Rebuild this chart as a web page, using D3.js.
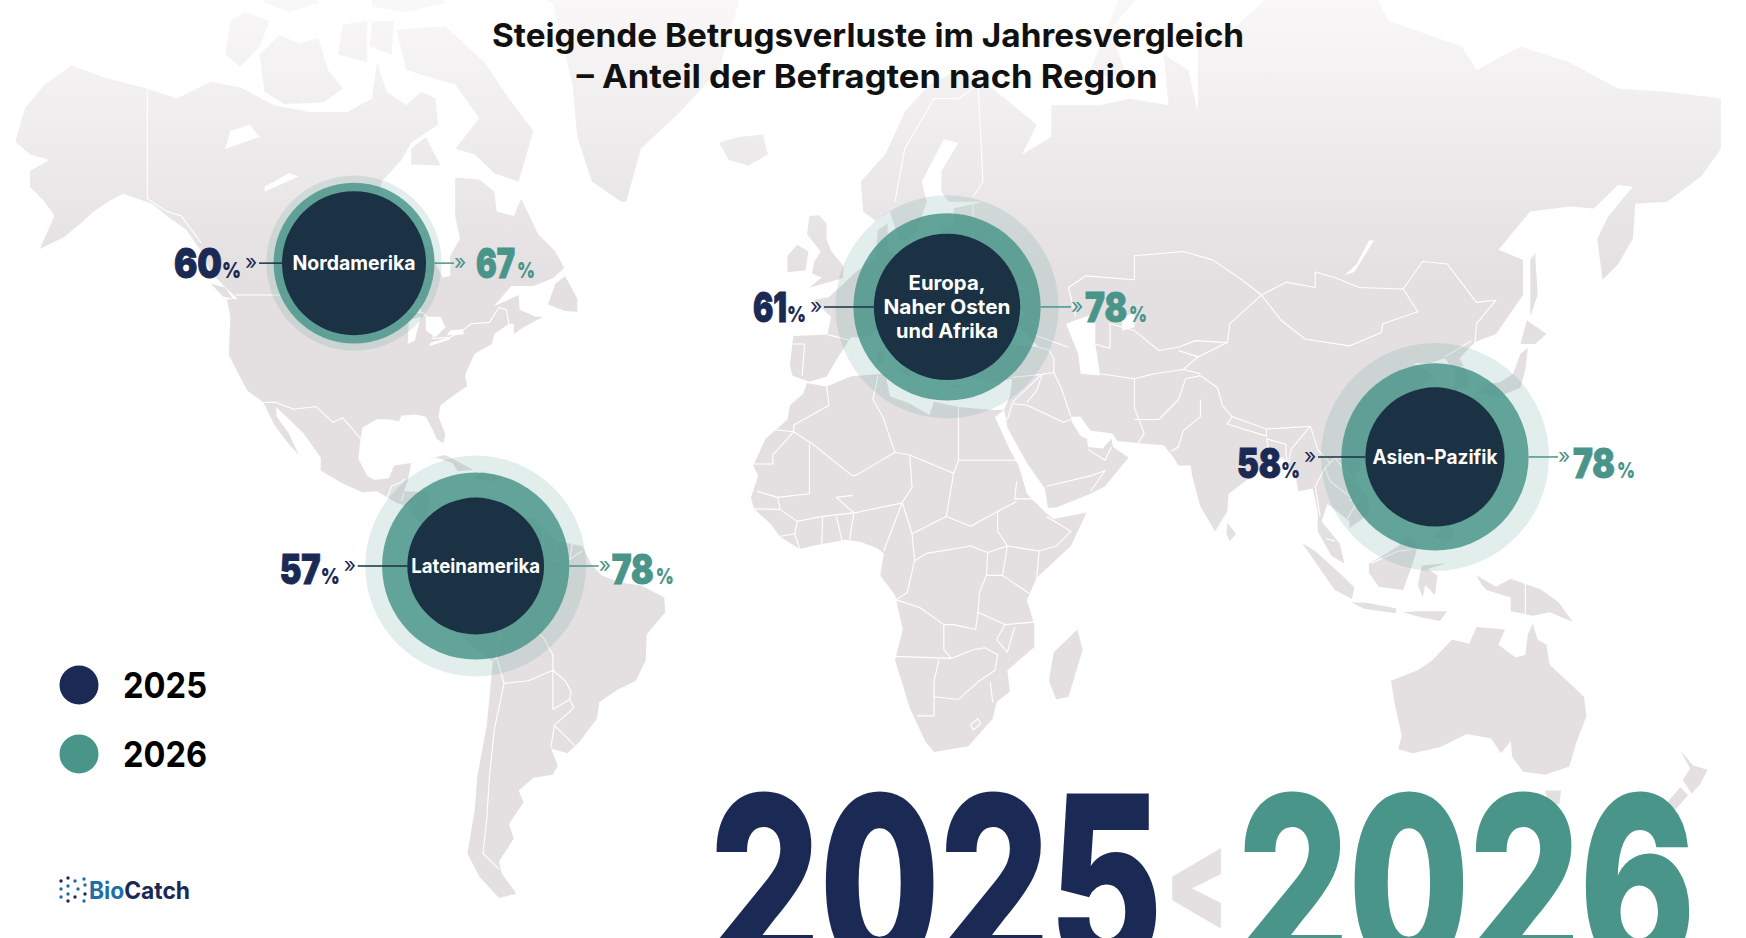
<!DOCTYPE html>
<html lang="de">
<head>
<meta charset="utf-8">
<title>Betrugsverluste</title>
<script src="https://cdn.jsdelivr.net/npm/d3@7"></script>
<style>
  html, body { margin: 0; background: #fff; overflow: hidden; }
  text { font-family: Inter, Roboto, sans-serif; }
  text.heavy { font-weight: 900; }
</style>
</head>
<body>
<div id="chart"></div>
<script>
// chart data
const titleLines = ["Steigende Betrugsverluste im Jahresvergleich", "– Anteil der Befragten nach Region"];
const regions = [["Nordamerika"], ["Europa,", "Naher Osten", "und Afrika"], ["Asien-Pazifik"], ["Lateinamerika"]];
const values2025 = [60, 61, 58, 57];
const values2026 = [67, 78, 78, 78];
const haloValues = [73, 93, 95, 92];
const hubLon = [-98.7, 22.65, 122.5, -73.8];
const hubLat = [53.1, 47.38, 22.62, 0.92];
const years = ["2025", "2026"];

// land outlines, lon/lat
const land = [
  // north america
  [[-168,65.6],[-166,68.3],[-162,70],[-156.5,71.3],[-150,70.5],[-141,69.7],[-135,69],[-128,70.2],[-122,69.8],[-115,68.5],[-108,68],[-100,68],[-95,69],[-94,71.5],[-92,69.5],[-88,68.5],[-85,69.5],[-82,69],[-81.5,67],[-87,65.5],[-89,64],[-93,62],[-94.5,59],[-92.5,57],[-88,56.5],[-85,55.3],[-82.5,55],[-82,53],[-80.5,51.3],[-79,51.5],[-79,54],[-77,56],[-78,58.5],[-78,62.4],[-73,62.2],[-70,61],[-69.5,59],[-66,58.5],[-64.5,60.3],[-61,56.5],[-57.5,54.5],[-55.7,52.5],[-58,51.2],[-62,50.2],[-66.5,50.2],[-70,47.5],[-65,49],[-64.8,47],[-61.5,46],[-60,46],[-64,44.5],[-66,43.5],[-66,45],[-67,45],[-70,43.5],[-70.5,42],[-74,40.5],[-75.5,38],[-76,36.9],[-75.5,35.3],[-78,33.9],[-81,32],[-81.4,30],[-80,26.8],[-80.4,25.2],[-81.8,26],[-82.8,28],[-84,30],[-86,30.4],[-89,30.2],[-89.5,29.2],[-91.5,29.5],[-94,29.6],[-97,28],[-97.5,25],[-97.8,22.3],[-96,19],[-94.5,18.2],[-91.5,18.6],[-90.5,21],[-87,21.5],[-87.7,18],[-88.5,16],[-84,15.8],[-83.3,14],[-83.7,11],[-82,9],[-79.5,9.6],[-77.3,8.6],[-78,7.3],[-80,7.3],[-81.5,7.7],[-83,8.3],[-85.5,10],[-87.5,13],[-90,13.7],[-94,16],[-97,15.8],[-101,17.5],[-105.5,20],[-105.5,22.5],[-109,27],[-112.5,30],[-114.7,31.7],[-114.5,30],[-112,27],[-110,23],[-112,25],[-115,28.5],[-117.2,32.5],[-120.5,34.5],[-122.5,37.5],[-124.3,40.3],[-124,46],[-124.7,48.4],[-122.5,48.5],[-125,50],[-128,52],[-130,54.5],[-133,57],[-137,58.5],[-140,59.8],[-146,60.8],[-149,60],[-152,59],[-154,58],[-158,56.2],[-163,54.8],[-160,58.5],[-162,60],[-165,61.5],[-165,63],[-161,64],[-165,64.5]],
  // canadian arctic
  [[-62,66.5],[-65,62],[-70,62.8],[-74,64.5],[-78,65],[-73,67.5],[-78,70],[-88,71],[-90,73.5],[-80,73.7],[-72,71.5],[-67,69]],
  [[-117,69.5],[-113,68.6],[-105,68.7],[-101,69.7],[-104,71],[-106,73],[-110,72.7],[-114,73.2],[-118,72]],
  [[-125,72],[-122,71.2],[-118,72.5],[-116,74],[-121,74.5],[-124,74]],
  [[-102,72],[-96,71.5],[-96,74],[-101,73.8]],
  [[-95.5,72.5],[-91,72],[-90.5,74],[-95,74]],
  [[-87,63.6],[-81,63.5],[-84,66],[-87,65]],
  [[-117,75],[-112,74.5],[-106,75],[-106,76.4],[-112,76],[-117,76.3]],
  [[-95,74.8],[-88,74.5],[-80,75],[-82,75.8],[-90,76.3],[-95,76.5]],
  [[-90,77],[-80,76.5],[-76,78],[-68,80.5],[-62,82],[-75,83],[-90,81.5]],
  [[-128,50.5],[-125,50],[-123.5,48.5],[-125.5,48.8]],
  // greenland, iceland, newfoundland, caribbean
  [[-44,60],[-50,62],[-53,66],[-54,70],[-58,75],[-68,76],[-72,78],[-60,82],[-30,83.5],[-18,80],[-20,75],[-24,71],[-32,68],[-40,65],[-43,60]],
  [[-24,65.5],[-22,64],[-18,63.5],[-14,64.5],[-15,66.2],[-20,66]],
  [[-59,47.7],[-55.5,46.8],[-53,46.7],[-53,48.5],[-55.5,51.5],[-57.5,50.5]],
  [[-85,22],[-80,23],[-74.3,20.2],[-77.5,19.9],[-78.5,21.5],[-82,22.5]],
  [[-74.4,18.5],[-72.5,19.9],[-68.5,18.6],[-71,17.8]],
  // south america
  [[-77.3,8.6],[-75.5,10.7],[-72,12],[-71.5,10.8],[-68,10.8],[-62,10.7],[-60,8.5],[-57,6],[-52,5],[-50,1],[-48,-1],[-44,-2.5],[-40,-3],[-35.2,-5.5],[-35,-8.5],[-38.8,-13],[-39,-18],[-41,-22],[-45,-23.8],[-48.5,-26],[-49,-29],[-52.5,-33],[-55,-35],[-58.4,-34.2],[-57,-37],[-58,-38.5],[-62,-39],[-65,-41],[-64,-42.8],[-67,-46],[-66,-48],[-69,-51],[-68.5,-52.5],[-65.5,-55],[-69,-55.5],[-73,-53],[-75.5,-50],[-74,-44],[-73.5,-39],[-71.5,-30],[-70.3,-18.3],[-76,-14],[-81,-6],[-80,-3],[-81,-1],[-78.5,2],[-77.5,4],[-77.5,7]],
  // africa
  [[-6,35.8],[-2,35.2],[3,36.9],[10,37.3],[11,33.5],[15,32.3],[19,30.3],[20,32.6],[25,31.7],[32,31.2],[34.3,31.2],[32.5,29.9],[35.5,24],[37.3,21],[39,15.5],[43,11.6],[44.5,10.5],[51.2,11.8],[48,5],[41,-1.5],[39,-6],[40.5,-11],[40.5,-15.5],[35,-20],[35.5,-24],[32.8,-26],[32,-29],[27,-33.8],[20,-34.8],[18.2,-33],[15,-27],[12,-18],[13.6,-12],[12,-5],[9,-1],[9.7,3.5],[8.5,4.5],[5,5.8],[2,6.3],[-4,5.2],[-7.5,4.4],[-11.5,6.9],[-13.5,9.5],[-16.8,12.5],[-17.5,14.7],[-16,19],[-17,21],[-14.5,26],[-10,29.5],[-9.5,32],[-6.8,34]],
  [[49.3,-12],[50.4,-16],[47.5,-25],[45,-25.5],[43.5,-22],[44.5,-16.5]],
  // eurasia
  [[-9,37],[-9.5,38.7],[-8.8,43.2],[-1.8,43.4],[-1.1,46],[-4.7,48.3],[-1.6,48.7],[1.5,50.5],[4,52],[8,53.7],[8.5,57],[10.5,57.7],[10.5,54.5],[14,54],[19,54.4],[21,55.3],[21.5,57.5],[24,57.2],[24,59.3],[30,60],[23,60],[21.5,61],[21.5,63],[25,65.5],[22,65.8],[17.5,62],[18.5,60],[16.5,57],[14,55.5],[12.7,56],[11,59],[8,58],[5.5,59],[5,62],[10,64.5],[14,68],[19,70],[25,71],[31,70],[41,67],[38,64.5],[44,66],[44,68.5],[54,68.5],[60,69],[68,68.5],[67,72],[72,71],[74,68],[74,72.5],[81,73.5],[87,75],[100,77],[105,77.7],[113,74],[128,72.5],[131,71],[140,72.5],[150,71.5],[160,69.7],[170,69.5],[181,69],[181,65],[177,62.5],[170,60],[163.5,59.8],[163,56],[160,53],[156.8,51],[155.7,56],[158,58.5],[163,61.5],[160,61.7],[155,59.3],[150,59.5],[142,59],[135.5,54.7],[140.5,53.5],[140.5,49],[135,43.5],[130.7,42.3],[127.5,39.8],[129.5,37],[129,35],[126.3,34.5],[126.7,37.5],[124.5,39.8],[121.5,39],[118,39],[122.5,37],[119.5,35],[122,31],[121.5,28.5],[119,25],[114,22.3],[110,21],[108,21.5],[106,19],[109,14],[109,11.5],[105,8.6],[105,10],[102.5,12],[100.5,13.5],[99.3,10],[103,5.5],[104,1.4],[101.3,3],[98.5,8],[98.5,12],[97.5,16.5],[94.5,16],[94,19],[91.5,22.5],[88,22],[86.5,20],[80.3,15.5],[80,12],[77.5,8],[74.5,13],[72.8,19],[72.5,21],[70,21],[69,22.5],[67,24.8],[62,25.2],[57.5,25.6],[56.5,27],[52,27.5],[50,30],[48,30],[48.2,29],[50,26.5],[51.3,26],[51.5,24.5],[54.5,24.2],[56.3,26],[56.6,24.5],[59.8,22.5],[55,17],[52,15.5],[45,12.8],[43.3,12.7],[42.7,16.5],[39,21.5],[35,28],[34.8,29.5],[34.3,31.2],[35.5,33.5],[36,36.5],[32,36],[27.5,36.7],[26.5,39.5],[29,41],[35,42],[41.5,41.5],[37,44.8],[39,47],[35,46],[36,45],[33.5,44.5],[33,46],[30.5,46],[28,43],[28.5,41.5],[26,40.8],[23,40.5],[24,38],[22.5,36.5],[21,38.5],[19.5,41.5],[13.7,45.5],[12.3,45],[16,41.8],[18.4,40],[16.5,39.8],[16,38],[15.7,40],[12,42],[9,44.3],[6,43],[3,43],[0,39.5],[-2,36.8],[-5.6,36]],
  // europe islands
  [[-5.5,50],[1.3,51.2],[1.5,52.7],[-1,54.5],[-2,56],[-2,57.7],[-3.5,58.6],[-5.5,58.5],[-6,56.5],[-3.2,54.5],[-4.5,53.3],[-5,51.8],[-3,51.3]],
  [[-10,52],[-6.3,52.2],[-5.7,54.5],[-8,55.3],[-10,54]],
  [[12.5,38],[15.5,38.2],[15,36.7]],
  [[8.3,41],[9.7,41],[9.5,39],[8.5,39]],
  [[23.5,35.5],[26.3,35.2],[24.5,34.9]],
  [[52,71],[56,70.5],[59,71],[56,73.5],[68,77],[60,76.5]],
  // asia islands
  [[130.9,34],[135.5,33.5],[140,35],[141,38],[141.5,41.4],[140,40.5],[138.5,37.3],[136,36],[132.5,35.4]],
  [[130,33.3],[131.8,33.5],[131,31],[130.2,31.5]],
  [[140,42],[141.3,45.5],[145.3,43.5],[143,42]],
  [[142,46],[143.5,49],[143,54.3],[142,53.5],[142,50]],
  [[120,23],[121.5,25.2],[121,22]],
  [[108.7,19.2],[110.5,20],[110,18.3]],
  [[120.3,16],[122,18.5],[122,16],[124,13],[121,13.8]],
  [[122,7],[125.5,9.7],[126.5,7],[125,5.7]],
  [[122,10],[123.5,11.5],[125,11],[123,9.5]],
  [[80,9.7],[81.8,7.5],[80.5,6],[79.8,7.5]],
  [[95.3,5.6],[98,4],[103.5,-1],[106,-3.5],[105.5,-5.8],[102,-4],[98.5,1]],
  [[105.3,-6.5],[108.5,-6.6],[114.5,-7.7],[114.5,-8.7],[108,-7.8]],
  [[109,1.5],[111.5,2.8],[115,5],[117,7],[119,5],[117.8,1],[116,-4],[111,-3.3],[109,-0.5]],
  [[119.8,1],[125,1.5],[121,0.3],[123,-1],[122.5,-5],[120.5,-3],[120,-5.5],[119,-3]],
  [[116,-8.5],[119,-8.3],[125,-8.3],[123.5,-10.3],[119.5,-9.5]],
  [[131,-1],[135,-3.3],[138,-1.7],[144,-3.8],[147.8,-6.5],[150.7,-10.5],[146,-8.5],[142.5,-9.2],[138,-8.3],[138,-5.5],[133,-4],[132,-2.8]],
  // oceania
  [[113.5,-22],[114.2,-26],[115.7,-32],[115,-34.3],[118,-35],[123.5,-34],[129,-31.7],[134,-32.5],[136,-35],[138,-33],[138.3,-35.6],[140.5,-38],[145,-38.5],[147,-38],[150,-37.2],[151.5,-33],[153.5,-28.5],[153,-25],[149.5,-22],[146,-19],[145.3,-15],[143.5,-14],[142.5,-10.8],[141.5,-13],[141,-17],[139,-17.5],[135.5,-15],[136.8,-12],[131,-11.5],[129.5,-14.8],[126,-14],[122,-18],[119,-20]],
  [[145,-41],[148.3,-41],[148,-43],[146,-43.5]],
  [[172.7,-34.5],[175.3,-37],[178.3,-37.7],[176.8,-40],[175,-41.5],[173.2,-39.3],[174.7,-37.5]],
  [[172.7,-40.5],[174.3,-41.7],[171,-44.5],[170.5,-46],[167.5,-46.3],[168,-44.5]]
];

// lakes and inland seas
const water = [
  [[47,45],[53,46.5],[53,42],[54,37],[50,37.3],[49.5,40.5]],
  [[-92,46.8],[-85,46.5],[-85,48.5],[-89,48.5]],
  [[-87.7,42],[-86.3,42.5],[-85,46],[-87.5,45.5]],
  [[-84,46],[-81,46],[-80,44.5],[-82,43],[-84,44]],
  [[-83.2,41.7],[-79,42.7],[-79,43],[-83,42.2]],
  [[-79.7,43.3],[-76.3,43.4],[-76.3,44.2],[-79,44]],
  [[-117,61],[-110,62.5],[-112,62.8],[-117,61.5]],
  [[-125,65],[-118,66],[-120,67],[-124,66.5]],
  [[104,51.6],[106,52],[110,55.8],[109,55.8],[106.5,53]],
  [[58.5,46],[61,46.5],[61,44.5],[58.5,44]]
];

// country borders
const borders = [
  [[-141,69.7],[-141,60.3],[-137,59],[-134,58.5],[-130,55.5]],
  [[-123,49],[-95,49],[-89.5,48],[-84.5,46.5],[-82.5,45],[-82.5,42.8],[-79,43],[-76.5,44],[-74.7,45],[-71,45.2],[-69,47.3],[-67.5,47],[-67,45]],
  [[-117,32.5],[-114.7,32.5],[-111,31.3],[-106.5,31.8],[-103,29],[-101,29.8],[-97.3,26]],
  [[-92,14.6],[-91,17],[-89,17.8],[-88.3,18.4]],
  [[-89,14],[-88.5,15.8]],
  [[-87.5,13],[-84,15]],
  [[-85.7,11],[-83.7,11]],
  [[-83,8.3],[-82.5,9.5]],
  [[-72,12],[-72.5,7.4],[-67.5,6],[-67.3,2],[-69.8,1.7],[-69.9,-4.2],[-74,-7],[-73,-9.5],[-70.5,-11]],
  [[-78.8,1.4],[-75.2,0],[-75.5,-1.5],[-78.5,-4.5],[-80.2,-3.4]],
  [[-60,8.5],[-60,5.2],[-60.5,1],[-64,1.5],[-67.3,2]],
  [[-57,6],[-58,2],[-54.5,2.3],[-54,5.8]],
  [[-52,4],[-54.5,2.3]],
  [[-70.5,-11],[-69,-12.5],[-69.5,-17.5],[-70.3,-18.3]],
  [[-69.5,-11],[-65.3,-10],[-60,-13.5],[-58,-17],[-58,-20]],
  [[-69.5,-17.5],[-68,-22.5],[-63,-22],[-58,-20],[-58,-27.3],[-54.6,-25.5],[-54.3,-24],[-55.5,-22],[-58,-20]],
  [[-68,-22.5],[-70,-31],[-71,-39],[-71.5,-45],[-72.3,-50],[-69,-52]],
  [[-54.6,-25.5],[-53.7,-27],[-57.7,-30.2],[-58.4,-34]],
  [[-57.7,-30.2],[-53.5,-33.7]],
  [[-2,35.2],[-1.5,32],[-8.7,28.5],[-8.7,27.3],[-13,27.7]],
  [[-8.7,27.3],[-4.8,25],[3.3,19],[4.2,19.2],[12,23.5],[9.5,30],[7.5,33],[8.5,36.9]],
  [[-17,21.3],[-13,21.3],[-13,23],[-8.7,27.3]],
  [[-12,14.8],[-5.5,15.5],[-5.5,25]],
  [[-16.3,16],[-12,14.8],[-11.5,12.4],[-16.8,12.5]],
  [[25,31.7],[25,22],[36.9,22]],
  [[25,22],[24,19.5],[15,23],[12,23.5]],
  [[15,23],[15.5,16.8],[13.5,13.8]],
  [[3.6,11.7],[13.5,13.7]],
  [[2.7,6.3],[3.6,11.7]],
  [[3.3,15.2],[0,14.8],[3.6,11.7]],
  [[24,19.5],[22.5,11],[15.5,7.5],[16,2]],
  [[13.5,13.8],[15.5,7.5]],
  [[9.7,4],[13.5,13.8]],
  [[16,2],[18.5,3.5],[27.5,5],[31,3.7]],
  [[16,2],[14.5,-4.5],[12.2,-6],[17,-7.5],[22,-11],[24,-11],[28.5,-12],[29,-8.5],[29.3,-4.5],[30.7,-1],[31,3.7]],
  [[22.5,11],[27.5,9],[33,12],[33,8],[35,5]],
  [[36.9,14],[33,12]],
  [[43,12.5],[40,14.5],[36.5,14.5],[36.9,18]],
  [[43,11],[48,8],[45,5],[41.5,4]],
  [[35,5],[41.5,4],[41,-1.5]],
  [[34,-1],[39.5,-4.7]],
  [[31,3.7],[35,5],[34,-1],[30.7,-1]],
  [[29,-8.5],[34.5,-11],[40.5,-10.5]],
  [[12,-17.3],[23.5,-17.7],[22,-16],[22,-11]],
  [[21,-18],[20,-22],[20,-28.5],[16.5,-28.5]],
  [[20,-25],[25,-25.5],[29,-22.2]],
  [[23.5,-17.7],[28,-16],[30.4,-15.6]],
  [[29,-22.2],[32.5,-20],[33,-17],[30.4,-15.6]],
  [[34.5,-11],[32.8,-14],[35,-16.5],[36.5,-11.5]],
  [[31.5,-22.3],[32,-26]],
  [[27.5,-30],[29,-29],[29.5,-30],[28,-31],[27.5,-30]],
  [[-11.5,7],[-8.5,7.5],[-8,10],[-11.5,12.4]],
  [[-7.5,4.4],[-8.5,7.5]],
  [[-5.5,10.5],[-8,10]],
  [[-3,5],[-2.8,11]],
  [[1.2,6],[0,11]],
  [[-5.5,10.5],[-2.8,11],[3.6,11.7]],
  [[-1.8,43.4],[3,42.5]],
  [[-8.8,42],[-6.5,42],[-7,37]],
  [[12,60],[14,65],[20,69],[25,69],[29,70]],
  [[29,70],[30,62],[28,60.5]],
  [[28,60],[28,56],[23.5,51.5],[31,52],[35,50.5],[40,49.5],[39,47]],
  [[36,36.7],[42,37.2],[44.5,37.5],[44.5,39.7],[43.5,41.1],[41.5,41.5]],
  [[40,43.5],[47.5,41.5]],
  [[44.5,37.5],[46,35],[48,30]],
  [[54,37.3],[61,36.5],[61,31.5],[63,27],[61.6,25]],
  [[61,29.5],[66,29.5],[70,33],[71.5,36.5],[74.5,37]],
  [[61,36.5],[65,37.3],[71,38],[74.5,37.3]],
  [[53,42],[56,41.3],[56,45],[61,44],[66,41],[70,41.5],[73.5,42.5],[80,42.2]],
  [[70,41],[74,40],[71,38]],
  [[49,46],[47.5,50],[51,51.5],[61,51],[61,54],[71,54.5],[77,53.5],[83,51],[87,49]],
  [[87,49],[80.5,45],[80,42.2],[74,40]],
  [[74.5,37],[78,35],[79,32],[81,30],[88,27.8],[92,28],[97,28.3]],
  [[88,27.8],[88,26.5],[80,28.7],[81,30]],
  [[74.5,33],[74.5,30],[71,27.5],[70,24.5],[68.5,23.7]],
  [[88,26],[89,22]],
  [[88,26],[92,25],[92,23],[92.5,21]],
  [[92.5,21],[93,24],[97,28.3]],
  [[97,28.3],[98.5,24],[101,21.5],[102,22.5],[105,19],[107.5,16],[107,14.5],[105,14.3]],
  [[101,21.5],[100,20.5],[98,17],[99,11]],
  [[100,20.5],[101,18],[105,15]],
  [[102,22.5],[108,21.6]],
  [[107,14.5],[104.5,10.5]],
  [[100.2,6.5],[102,6]],
  [[87,49],[91,45.5],[96,42.7],[105,41.7],[111.5,43.7],[111.8,45],[119,46.7],[116,49.8]],
  [[87,49],[92,50.7],[98,50],[98,52],[102,51.3],[107,50],[116,49.8]],
  [[116,49.8],[120,53.3],[125,53],[131,48],[135,48.3],[131,45],[130.7,42.3]],
  [[124.5,40],[130,42.5]],
  [[126,38],[128.5,38.5]],
  [[39,32],[46.5,29],[48,29.5]],
  [[39,32],[36,32.3],[35,29.5]],
  [[36,32.5],[42,37.2]],
  [[39,32.5],[41,34.5],[42,37]],
  [[43,17],[52,19],[55,20],[52,16]],
  [[51.5,24],[55,22],[56.3,24.5]],
  [[141,-2.6],[141,-9.2]],
  [[109.5,1.5],[115,4],[117.5,4.2]]
];

const width = 1746, height = 938;
const navy = "#1b2a55", teal = "#4a958a", ink = "#111", mapGrey = "#e4e0e1";

const svg = d3.select("#chart").append("svg")
  .attr("width", width).attr("height", height)
  .style("display", "block");

// map fades out towards the top
const grad = svg.append("defs").append("linearGradient")
  .attr("id", "landFade").attr("gradientUnits", "userSpaceOnUse")
  .attr("x1", 0).attr("x2", 0).attr("y1", 0).attr("y2", 280);
grad.append("stop").attr("offset", 0).attr("stop-color", "#f9f7f7");
grad.append("stop").attr("offset", 1).attr("stop-color", mapGrey);

// rotated so that the far east of russia does not wrap around
const projection = d3.geoMercator().rotate([-10, 0]).scale(280).translate([885.2, 570.5]);
const outline = d3.line().x(d => projection(d)[0]).y(d => projection(d)[1]);

svg.append("g").selectAll("path").data(land).join("path")
  .attr("d", d => outline(d) + "Z")
  .attr("fill", "url(#landFade)");
svg.append("g").selectAll("path").data(water).join("path")
  .attr("d", d => outline(d) + "Z")
  .attr("fill", "#fff");
svg.append("g").selectAll("path").data(borders).join("path")
  .attr("d", outline)
  .attr("fill", "none").attr("stroke", "#fff").attr("stroke-width", 1.1).attr("stroke-linejoin", "round");

// title
svg.append("g").selectAll("text").data(titleLines).join("text")
  .attr("x", (d, i) => i ? 867 : 868)
  .attr("y", (d, i) => 47 + i * 41)
  .attr("text-anchor", "middle")
  .attr("font-size", 33).attr("font-weight", 700).attr("fill", ink)
  .attr("textLength", (d, i) => i ? 581 : 752)
  .attr("lengthAdjust", "spacingAndGlyphs")
  .text(d => d);

// circle radius follows the value
const r = d3.scaleLinear().domain([0, 100]).range([0, 120]);

// left/right distance of the chevrons from the hub, baseline shift of the numbers
const gapLeft = [97, 125, 119, 120];
const gapRight = [100, 124, 123, 123];
const numDy = [15, 15, 21, 18];
const numWidthLeft = [48, 34, 44, 41];
const numWidthRight = [39, 42, 42, 42];
const numDxRight = [22, 14, 15, 13];
const nameWidths = [[123], [77, 127, 102], [125], [129]];

regions.forEach((name, i) => {
  const [cx, cy] = projection([hubLon[i], hubLat[i]]);
  const g = svg.append("g").attr("transform", `translate(${cx},${cy})`);

  g.append("circle").attr("r", r(haloValues[i])).attr("fill", teal).attr("opacity", 0.16);
  g.append("circle").attr("r", r(values2026[i])).attr("fill", teal).attr("opacity", 0.84);
  g.append("circle").attr("r", r(values2025[i])).attr("fill", "#1a3042").attr("opacity", 0.98);

  // left: 2025
  g.append("line").attr("x1", -gapLeft[i] + 2).attr("x2", -r(values2025[i]))
    .attr("stroke", "#1a3042").attr("stroke-width", 1.5);
  g.append("text").attr("x", -gapLeft[i] - 12).attr("y", 6)
    .attr("font-size", 21).attr("font-weight", 400).attr("fill", navy).text("»");
  g.append("text").attr("class", "heavy").attr("x", -gapLeft[i] - 16).attr("y", numDy[i])
    .attr("text-anchor", "end").attr("font-size", 22).attr("fill", navy)
    .attr("textLength", 19).attr("lengthAdjust", "spacingAndGlyphs").text("%");
  g.append("text").attr("class", "heavy").attr("x", -gapLeft[i] - 35).attr("y", numDy[i])
    .attr("text-anchor", "end").attr("font-size", 41).attr("fill", navy)
    .attr("stroke", navy).attr("stroke-width", 1)
    .attr("textLength", numWidthLeft[i]).attr("lengthAdjust", "spacingAndGlyphs")
    .text(values2025[i]);

  // right: 2026
  g.append("line").attr("x1", r(values2026[i])).attr("x2", gapRight[i])
    .attr("stroke", teal).attr("stroke-width", 1.5);
  g.append("text").attr("x", gapRight[i]).attr("y", 6)
    .attr("font-size", 21).attr("font-weight", 400).attr("fill", teal).text("»");
  g.append("text").attr("class", "heavy").attr("x", gapRight[i] + numDxRight[i]).attr("y", numDy[i])
    .attr("font-size", 41).attr("fill", teal)
    .attr("stroke", teal).attr("stroke-width", 1)
    .attr("textLength", numWidthRight[i]).attr("lengthAdjust", "spacingAndGlyphs")
    .text(values2026[i]);
  g.append("text").attr("class", "heavy")
    .attr("x", gapRight[i] + numDxRight[i] + numWidthRight[i] + 2).attr("y", numDy[i])
    .attr("font-size", 22).attr("fill", teal)
    .attr("textLength", 18).attr("lengthAdjust", "spacingAndGlyphs").text("%");

  // region name on the dark circle
  const lines = name.length;
  g.selectAll("text.name").data(name).join("text").attr("class", "name")
    .attr("x", 0)
    .attr("y", (d, k) => (k - (lines - 1) / 2) * 24 + 7)
    .attr("text-anchor", "middle")
    .attr("font-size", 19.5).attr("font-weight", 700).attr("fill", "#fff")
    .attr("textLength", (d, k) => nameWidths[i][k]).attr("lengthAdjust", "spacingAndGlyphs")
    .text(d => d);
});

// legend
const legendColor = d3.scaleOrdinal().domain(years).range([navy, teal]);
const legendY = d3.scalePoint().domain(years).range([685, 754]);
const legend = svg.append("g").selectAll("g").data(years).join("g")
  .attr("transform", d => `translate(79,${legendY(d)})`);
legend.append("circle").attr("r", 19.5).attr("fill", d => legendColor(d));
legend.append("text").attr("x", 44).attr("y", 13)
  .attr("font-size", 36).attr("font-weight", 700).attr("fill", "#000")
  .attr("textLength", 84).attr("lengthAdjust", "spacingAndGlyphs")
  .text(d => d);

// grey "<" goes first, the big numbers sit next to it
svg.append("text").attr("class", "heavy").attr("x", 1197).attr("y", 927)
  .attr("text-anchor", "middle")
  .attr("font-size", 130).attr("fill", mapGrey)
  .attr("stroke", mapGrey).attr("stroke-width", 2)
  .attr("textLength", 62).attr("lengthAdjust", "spacingAndGlyphs")
  .text("<");

// big comparison at the bottom, cut off by the page edge
const bigX = d3.scaleOrdinal().domain(years).range([710, 1238]);
svg.append("g").selectAll("text").data(years).join("text")
  .attr("x", d => bigX(d)).attr("y", 970)
  .attr("font-size", 240).attr("font-weight", 800)
  .attr("fill", d => legendColor(d))
  .attr("stroke", d => legendColor(d)).attr("stroke-width", 3)
  .attr("textLength", d => d === "2025" ? 452 : 457)
  .attr("lengthAdjust", "spacingAndGlyphs")
  .text(d => d);

// logo
const logo = svg.append("g").attr("transform", "translate(60,877)");
const dots = [[1,4],[1,12],[1,20],[8,1],[8,9],[8,17],[8,24],[15,4],[18,12],[15,20],[24,2],[25,8],[25,17],[24,24]];
logo.selectAll("circle").data(dots).join("circle")
  .attr("cx", d => d[0]).attr("cy", d => d[1]).attr("r", 1.7)
  .attr("fill", (d, i) => i % 3 ? "#1d6fa5" : navy);
const word = svg.append("text").attr("x", 89).attr("y", 899)
  .attr("font-size", 24).attr("font-weight", 700)
  .attr("textLength", 101).attr("lengthAdjust", "spacingAndGlyphs");
word.append("tspan").attr("fill", "#1d6fa5").text("Bio");
word.append("tspan").attr("fill", navy).text("Catch");
</script>
</body>
</html>
